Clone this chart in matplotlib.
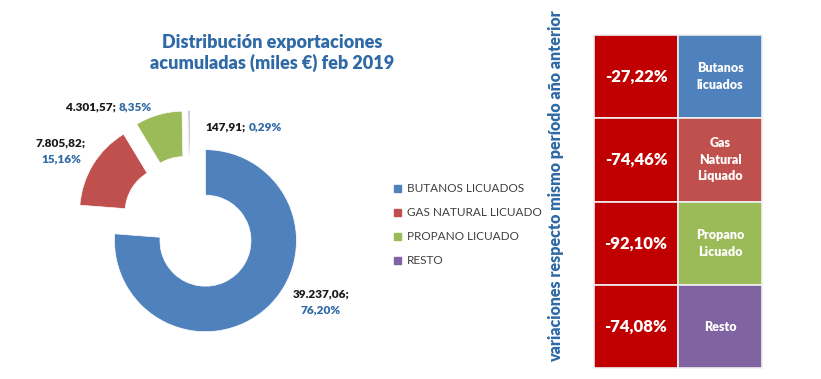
import matplotlib.pyplot as plt
from matplotlib.patches import Rectangle

plt.rcParams['font.family'] = ['Lato', 'DejaVu Sans']

# Data
categorias = ["BUTANOS LICUADOS", "GAS NATURAL LICUADO", "PROPANO LICUADO", "RESTO"]
valores = [39237.06, 7805.82, 4301.57, 147.91]
variaciones = [-27.22, -74.46, -92.10, -74.08]
nombres_tabla = ["Butanos\nlicuados", "Gas\nNatural\nLiquado", "Propano\nLicuado", "Resto"]
colores = ["#4F81BD", "#C0504D", "#9BBB59", "#8064A2"]

AZUL_TXT = "#2F6AA6"
ROJO = "#C00000"
PESO = 'heavy'


def es_num(v, dec=2):
    s = f"{v:,.{dec}f}"
    return s.replace(",", "X").replace(".", ",").replace("X", ".")


total = sum(valores)
porcentajes = [v / total * 100 for v in valores]

W, H = 821, 379
fig = plt.figure(figsize=(W / 100, H / 100), dpi=100)

# ---- donut ----
R = 91.0          # px per unit radius
cx, cy = 190, 224  # pie centre in px
pw = 400
ax = fig.add_axes([0, 0, pw / W, 1])
ax.pie(valores, colors=colores, startangle=90, counterclock=False,
       explode=[0.25] * 4, radius=1,
       wedgeprops=dict(width=0.5, edgecolor="white", linewidth=0.5))
ax.set_xlim(-cx / R, (pw - cx) / R)
ax.set_ylim((cy - H) / R, cy / R)
ax.set_aspect('auto')
ax.axis('off')


def px(x, y):
    return (x - cx) / R, (cy - y) / R


fs_lbl = 8.5
# label layout (pixel positions)
ax.text(*px(321, 294), es_num(valores[0]) + ";", ha='center', va='center',
        fontsize=fs_lbl, fontweight=PESO, color='#1a1a1a')
ax.text(*px(321, 310), es_num(porcentajes[0]) + "%", ha='center', va='center',
        fontsize=fs_lbl, fontweight=PESO, color=AZUL_TXT)
ax.text(*px(61, 143), es_num(valores[1]) + ";", ha='center', va='center',
        fontsize=fs_lbl, fontweight=PESO, color='#1a1a1a')
ax.text(*px(61, 159), es_num(porcentajes[1]) + "%", ha='center', va='center',
        fontsize=fs_lbl, fontweight=PESO, color=AZUL_TXT)
ax.text(*px(116, 107), es_num(valores[2]) + ";", ha='right', va='center',
        fontsize=fs_lbl, fontweight=PESO, color='#1a1a1a')
ax.text(*px(119, 107), es_num(porcentajes[2]) + "%", ha='left', va='center',
        fontsize=fs_lbl, fontweight=PESO, color=AZUL_TXT)
ax.text(*px(246, 127), es_num(valores[3]) + ";", ha='right', va='center',
        fontsize=fs_lbl, fontweight=PESO, color='#1a1a1a')
ax.text(*px(249, 127), es_num(porcentajes[3]) + "%", ha='left', va='center',
        fontsize=fs_lbl, fontweight=PESO, color=AZUL_TXT)

# ---- overlay axes in pixel coords ----
ov = fig.add_axes([0, 0, 1, 1], zorder=3)
ov.set_xlim(0, W)
ov.set_ylim(H, 0)
ov.axis('off')
ov.patch.set_alpha(0)

ov.text(272, 53, "Distribución exportaciones\nacumuladas (miles €) feb 2019",
        ha='center', va='center', fontsize=13, fontweight=PESO,
        color=AZUL_TXT, linespacing=1.25)

# legend
for i, (c, col) in enumerate(zip(categorias, colores)):
    y = 188 + i * 24.3
    ov.add_patch(Rectangle((394, y - 3.5), 7, 7, color=col))
    ov.text(407, y, c, ha='left', va='center', fontsize=8.5, color='#404040')

# rotated caption
ov.text(556, 186, "variaciones respecto mismo período año anterior",
        rotation=90, ha='center', va='center', fontsize=11.5,
        fontweight=PESO, color=AZUL_TXT)

# table
x0, x1, x2 = 594, 678, 762
y0, rh = 35, 83.3
for i in range(len(variaciones)):
    y = y0 + i * rh
    ov.add_patch(Rectangle((x0, y), x1 - x0, rh, facecolor=ROJO,
                           edgecolor='#F0F0F0', lw=1.2))
    ov.add_patch(Rectangle((x1, y), x2 - x1, rh, facecolor=colores[i],
                           edgecolor='#F0F0F0', lw=1.2))
    ov.text((x0 + x1) / 2, y + rh / 2, es_num(variaciones[i]) + "%",
            ha='center', va='center', fontsize=12, fontweight=PESO,
            color='white')
    ov.text((x1 + x2) / 2, y + rh / 2, nombres_tabla[i],
            ha='center', va='center', fontsize=9, fontweight=PESO,
            color='white', linespacing=1.45)

fig.savefig("out.png", dpi=100)
